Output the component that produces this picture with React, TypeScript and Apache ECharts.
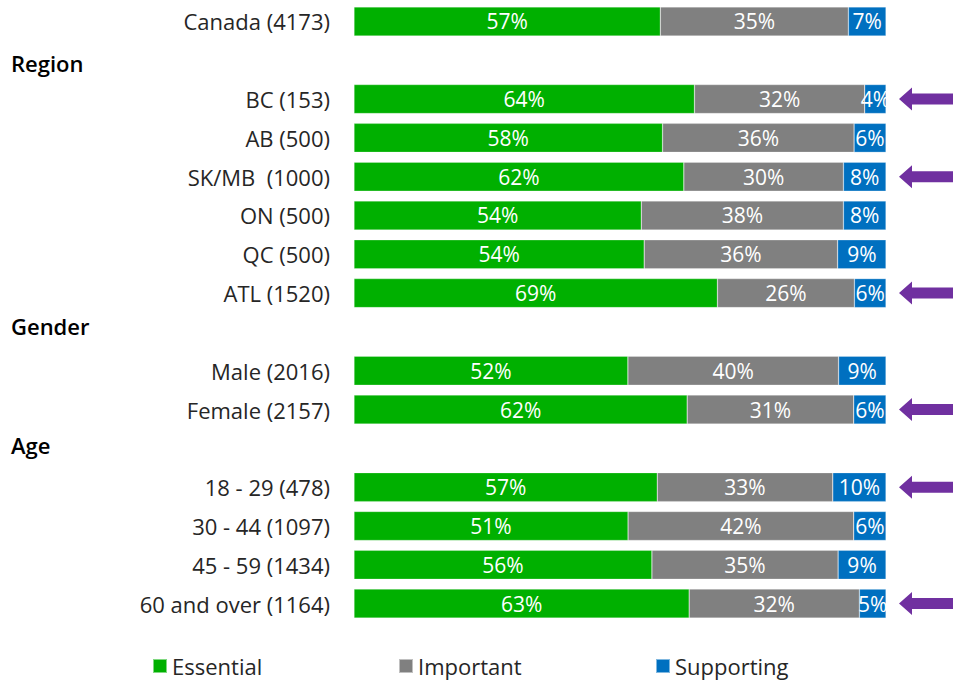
import React, { useEffect, useRef } from "react";
import * as echarts from "echarts";

const categories = [
  "Canada (4173)",
  "Region",
  "BC (153)",
  "AB (500)",
  "SK/MB  (1000)",
  "ON (500)",
  "QC (500)",
  "ATL (1520)",
  "Gender",
  "Male (2016)",
  "Female (2157)",
  "Age",
  "18 - 29 (478)",
  "30 - 44 (1097)",
  "45 - 59 (1434)",
  "60 and over (1164)",
];
const headings = ["Region", "Gender", "Age"];
const essential = [57, null, 64, 58, 62, 54, 54, 69, null, 52, 62, null, 57, 51, 56, 63];
const important = [35, null, 32, 36, 30, 38, 36, 26, null, 40, 31, null, 33, 42, 35, 32];
const supporting = [7, null, 4, 6, 8, 8, 9, 6, null, 9, 6, null, 10, 6, 9, 5];
const flagged = ["BC (153)", "SK/MB  (1000)", "ATL (1520)", "Female (2157)", "18 - 29 (478)", "60 and over (1164)"];
const seriesNames = ["Essential", "Important", "Supporting"];
const colors = ["#00B000", "#808080", "#0070C0"];

const FONT = "Open Sans";
const legendLefts = [152, 398, 655];
const headingStyleKey: Record<string, string> = { Region: "r", Gender: "g", Age: "a" };

export default function App() {
  const ref = useRef<HTMLDivElement>(null);
  useEffect(() => {
    document.body.style.margin = "0";
    const chart = echarts.init(ref.current!, null, { renderer: "svg" });
    const raw = [essential, important, supporting];
    const totals = categories.map((_, i) =>
      raw.reduce((s, arr) => s + (arr[i] ?? 0), 0)
    );
    const series: any[] = raw.map((arr, k) => ({
      name: seriesNames[k],
      type: "bar",
      stack: "total",
      barWidth: 29,
      yAxisIndex: 0,
      itemStyle: { color: colors[k], borderColor: "rgba(255,255,255,0.5)", borderWidth: 0.5 },
      label: {
        show: true,
        position: "inside",
        color: "#fff",
        fontSize: 21,
        fontFamily: FONT,
        formatter: (p: any) => `${arr[p.dataIndex]}%`,
      },
      data: arr.map((v, i) => (v == null ? null : (v / totals[i]) * 100)),
    }));
    series.push({
      type: "custom",
      name: "flag",
      clip: false,
      silent: true,
      encode: { x: 0, y: 1 },
      data: flagged.map((c) => [100, categories.indexOf(c)]),
      renderItem: (params: any, api: any) => {
        const p = api.coord([api.value(0), api.value(1)]);
        const x = p[0] + 13;
        const y = p[1];
        const hl = 13;
        const hh = 11.5;
        const sh = 5.5;
        const end = x + 70;
        return {
          type: "polygon",
          shape: {
            points: [
              [x, y],
              [x + hl, y - hh],
              [x + hl, y - sh],
              [end, y - sh],
              [end, y + sh],
              [x + hl, y + sh],
              [x + hl, y + hh],
            ],
          },
          style: { fill: "#7030A0" },
        };
      },
    });
    const headingRich = {
      r: { fontSize: 22, fontWeight: 600, color: "#000", fontFamily: FONT, padding: [6, 0, 0, 0] },
      g: { fontSize: 22, fontWeight: 600, color: "#000", fontFamily: FONT, padding: [0, 0, 12, 0] },
      a: { fontSize: 22, fontWeight: 600, color: "#000", fontFamily: FONT, padding: [0, 0, 6, 0] },
    };
    chart.setOption({
      animation: false,
      textStyle: { fontFamily: FONT },
      grid: { left: 354, right: 67, top: 2, height: 621 },
      xAxis: { type: "value", min: 0, max: 100, show: false },
      yAxis: [
        {
          type: "category",
          data: categories,
          inverse: true,
          axisLine: { show: false },
          axisTick: { show: false },
          axisLabel: {
            margin: 24,
            fontSize: 22,
            fontFamily: FONT,
            color: "#262626",
            formatter: (v: string) => (headings.includes(v) ? "" : v),
          },
        },
        {
          type: "category",
          data: categories,
          inverse: true,
          position: "left",
          offset: 0,
          axisLine: { show: false },
          axisTick: { show: false },
          axisLabel: {
            margin: 343,
            align: "left",
            fontSize: 22,
            fontWeight: 600,
            fontFamily: FONT,
            color: "#000",
            rich: headingRich,
            formatter: (v: string) =>
              headings.includes(v) ? `{${headingStyleKey[v]}|${v}}` : "",
          },
        },
      ],
      legend: seriesNames.map((name, k) => ({
        data: [name],
        left: legendLefts[k],
        top: 655,
        padding: 0,
        icon: "rect",
        itemWidth: 14,
        itemHeight: 14,
        itemGap: 6,
        textStyle: { fontSize: 22, color: "#262626", fontFamily: FONT },
      })),
      series,
    });
    return () => chart.dispose();
  }, []);
  return <div ref={ref} style={{ width: 953, height: 682 }} />;
}
